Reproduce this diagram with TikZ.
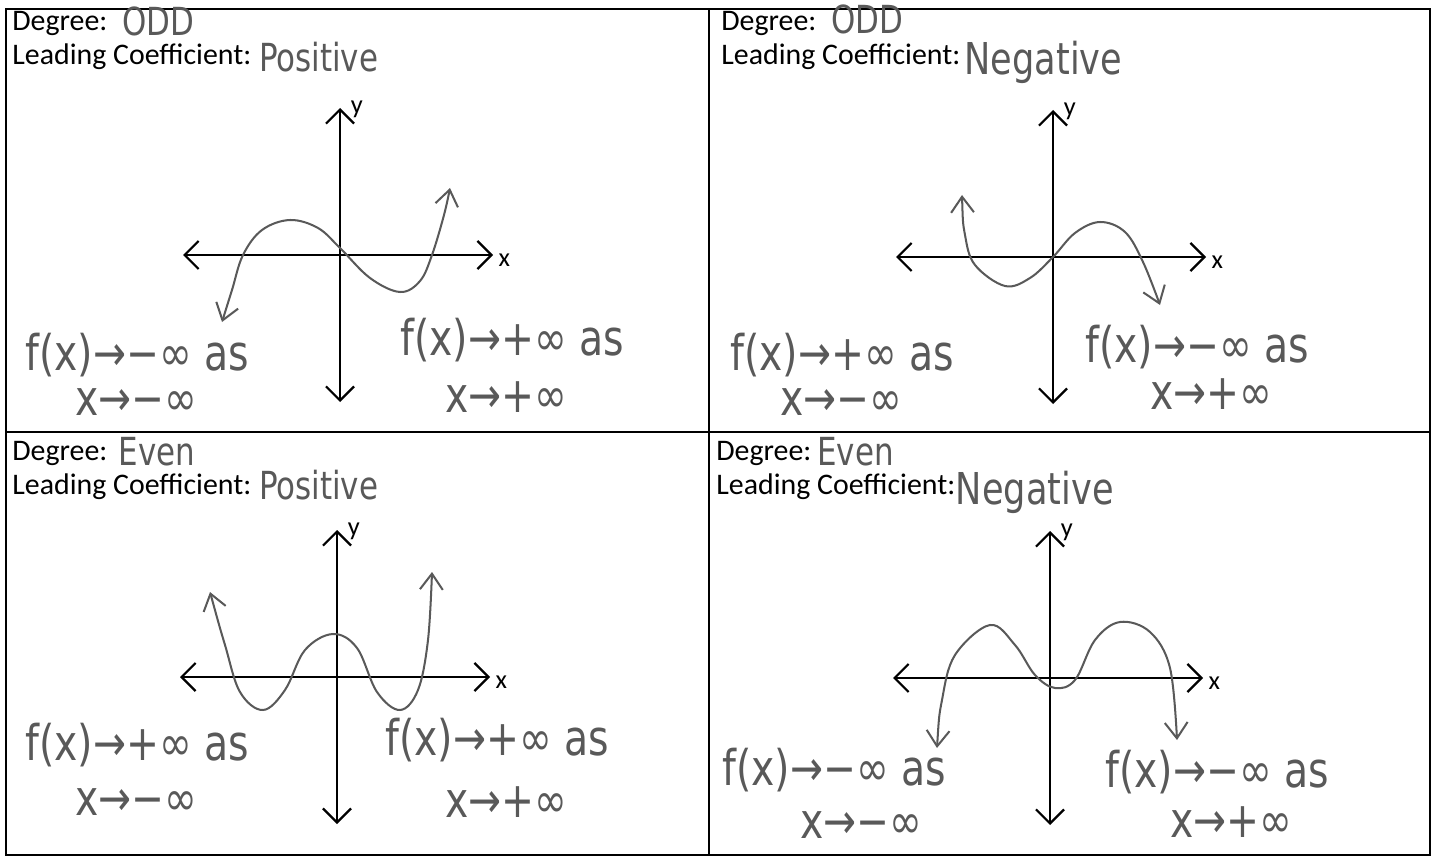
\documentclass[tikz,border=0pt]{standalone}
\usepackage{fontspec}
\setmainfont{Carlito}
\newfontfamily\handfont{DejaVu Sans}[FakeStretch=0.8]
\usetikzlibrary{arrows.meta}
\usetikzlibrary{positioning}

\tikzset{
  frame/.style={line width=1.1pt},
  axis/.style={line width=1.3pt, {Straight Barb[length=8pt,width=16pt]}-{Straight Barb[length=8pt,width=16pt]}},
  graph/.style={line width=1.15pt, draw=black!65, {Straight Barb[length=9pt,width=13pt]}-{Straight Barb[length=9pt,width=13pt]}},
  printed/.style={anchor=west, inner sep=0pt, font=\fontsize{17}{19}\selectfont},
  answer/.style={anchor=west, inner sep=0pt, text=black!65, font=\handfont\fontsize{22}{24}\selectfont},
  bigans/.style={answer, font=\handfont\fontsize{25}{27}\selectfont},
  limit/.style={anchor=west, inner sep=0pt, text=black!65, font=\handfont\fontsize{28}{30}\selectfont},
  axlabel/.style={inner sep=0pt, font=\fontsize{15}{17}\selectfont}
}

\begin{document}
\begin{tikzpicture}[x=0.02cm, y=-0.02cm]

      \useasboundingbox (0,0) rectangle (1433,858);

      % Outer frame and the two dividers
      \draw[frame] (6,9) rectangle (1430,855);
      \draw[frame] (709,9) -- (709,855);
      \draw[frame] (6,432) -- (1430,432);

      % Half lengths of the axes
      \def\xl{157}
      \def\xr{153}
      \def\yt{147}

      % Axes of the four panels
      \foreach \n/\cx/\cy in {tl/340/255, tr/1053/257, bl/337/677, br/1050/678} {
        \coordinate (\n-o) at (\cx, \cy);
        \coordinate (\n-l) at (\cx-\xl, \cy);
        \coordinate (\n-r) at (\cx+\xr, \cy);
        \coordinate (\n-t) at (\cx, \cy-\yt);
        \coordinate (\n-b) at (\cx, \cy+\yt);
        \draw[axis] (\n-l) -- (\n-r);
        \draw[axis] (\n-b) -- (\n-t);
        \node[axlabel, below right=-1pt and 3pt of \n-r] (\n-x) {x};
        \node[axlabel, above right=-6pt and 6pt of \n-t] (\n-y) {y};
      }

      % Printed headings
      \foreach \n/\px/\py in {tl/12/23, tr/721/23, bl/12/453, br/716/453} {
        \node[printed] (\n-deg) at (\px, \py) {Degree:};
        \node[printed] (\n-lead) at (\px, \py+34) {Leading Coefficient:};
      }

      % Handwritten answers
      \node[answer, right=8pt of tl-deg, yshift=1pt] (tl-odd) {ODD};
      \node[answer, right=4pt of tl-lead] (tl-pos) {Positive};
      \node[answer, right=8pt of tr-deg, yshift=2pt] (tr-odd) {ODD};
      \node[bigans, right=2pt of tr-lead, yshift=-3pt] (tr-neg) {Negative};
      \node[answer, right=6pt of bl-deg, yshift=1pt] (bl-even) {Even};
      \node[answer, right=4pt of bl-lead, yshift=1pt] (bl-pos) {Positive};
      \node[answer, right=3pt of br-deg, yshift=1pt] (br-even) {Even};
      \node[bigans, right=0pt of br-lead, yshift=-3pt] (br-neg) {Negative};

      % Odd degree, positive leading coefficient
      \draw[graph] plot[smooth, tension=0.6] coordinates {(222,322) (232,290) (243,255) (262,230) (290,220) (318,228) (340,248) (370,278) (400,292) (420,281) (432,255) (444,215) (450,188)};
      \node[limit] (tl-f1) at (25, 355) {f(x)→−∞ as};
      \node[limit] (tl-x1) at (75, 402) {x→−∞};
      \node[limit] (tl-f2) at (400, 340) {f(x)→+∞ as};
      \node[limit] (tl-x2) at (445, 397) {x→+∞};

      % Odd degree, negative leading coefficient
      \draw[graph] plot[smooth, tension=0.6] coordinates {(962,195) (965,235) (975,265) (1005,286) (1030,278) (1053,257) (1075,233) (1100,222) (1125,232) (1143,262) (1160,305)};
      \node[limit] (tr-f1) at (730, 355) {f(x)→+∞ as};
      \node[limit] (tr-x1) at (780, 402) {x→−∞};
      \node[limit] (tr-f2) at (1085, 347) {f(x)→−∞ as};
      \node[limit] (tr-x2) at (1150, 394) {x→+∞};

      % Even degree, positive leading coefficient
      \draw[graph] plot[smooth, tension=0.6] coordinates {(210,592) (225,645) (240,692) (263,710) (285,690) (305,650) (333,634) (357,648) (377,692) (400,710) (418,690) (428,640) (432,572)};
      \node[limit] (bl-f1) at (25, 745) {f(x)→+∞ as};
      \node[limit] (bl-x1) at (75, 802) {x→−∞};
      \node[limit] (bl-f2) at (385, 740) {f(x)→+∞ as};
      \node[limit] (bl-x2) at (445, 802) {x→+∞};

      % Even degree, negative leading coefficient
      \draw[graph] plot[smooth, tension=0.6] coordinates {(937,748) (942,700) (955,655) (990,625) (1015,645) (1035,675) (1055,688) (1075,680) (1095,640) (1120,622) (1150,632) (1170,668) (1177,740)};
      \node[limit] (br-f1) at (722, 770) {f(x)→−∞ as};
      \node[limit] (br-x1) at (800, 825) {x→−∞};
      \node[limit] (br-f2) at (1105, 772) {f(x)→−∞ as};
      \node[limit] (br-x2) at (1170, 822) {x→+∞};

    \end{tikzpicture}
\end{document}
